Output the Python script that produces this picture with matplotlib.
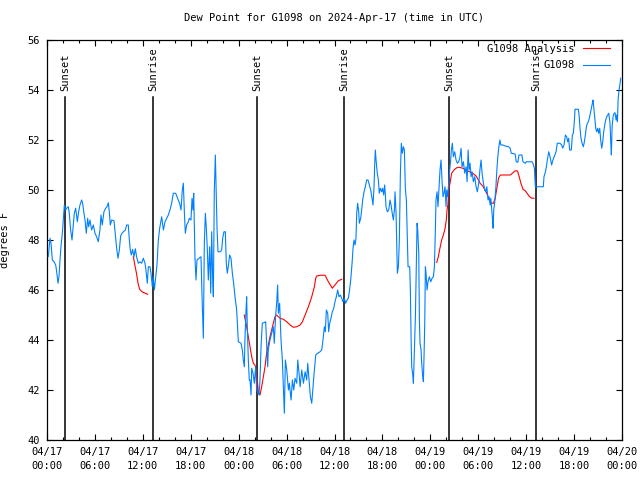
import numpy as np
import matplotlib.pyplot as plt
from matplotlib.ticker import MultipleLocator

# hours since 2024-04-17 00:00 UTC
obs_hours = [0.16, 0.38, 0.5, 0.67, 0.88, 1.09, 1.21, 1.38, 1.5, 1.63, 1.75, 1.92, 2.04, 2.17, 2.34, 2.46,
             2.67, 2.79, 2.96, 3.13, 3.3, 3.42, 3.59, 3.8, 3.96, 4.13, 4.34, 4.46, 4.63, 4.76, 4.92, 5.09,
             5.21, 5.38, 5.59, 5.8, 6.01, 6.21, 6.42, 6.63, 6.76, 6.92, 7.13, 7.34, 7.51, 7.68, 7.8, 7.93,
             8.1, 8.39, 8.56, 8.72, 8.89, 9.06, 9.22, 9.39, 9.56, 9.81, 9.97, 10.18, 10.31, 10.43, 10.56,
             10.72, 10.89, 11.06, 11.22, 11.43, 11.64, 11.85, 12.06, 12.27, 12.39, 12.56, 12.69, 12.9,
             13.02, 13.19, 13.31, 13.44,
             13.61, 13.77, 13.94, 14.11, 14.28, 14.36, 14.57, 14.78, 14.99, 15.19, 15.4, 15.61, 15.82,
             16.11, 16.36, 16.6, 16.78, 16.94, 17.07, 17.2, 17.32, 17.49, 17.7, 17.82, 18.03, 18.16,
             18.28, 18.37, 18.45, 18.53, 18.66, 18.78, 19.03, 19.28, 19.45, 19.58, 19.7, 19.83, 19.95,
             20.08, 20.2, 20.37, 20.5, 20.62, 20.75, 20.83, 20.95, 21.08, 21.16, 21.29, 21.41, 21.7,
             21.87, 22.0, 22.16, 22.33, 22.45, 22.58, 22.75, 22.87, 23.04, 23.21, 23.37, 23.54, 23.75,
             23.96, 24.29, 24.46, 24.58, 24.71, 24.79, 24.92, 25.0, 25.08, 25.21, 25.33,
             25.42, 25.55, 25.63, 25.8, 25.96, 26.13, 26.25, 26.38, 26.55, 26.67, 26.8, 26.96, 27.21,
             27.38, 27.5, 27.63, 27.71, 27.92, 28.13, 28.34, 28.46, 28.63, 28.76, 28.88, 28.97, 29.13,
             29.3, 29.47, 29.6, 29.72, 29.85, 30.02, 30.23, 30.35, 30.56, 30.73, 30.9, 31.06, 31.27,
             31.4, 31.56, 31.69, 31.9, 32.11, 32.32, 32.52, 32.65, 32.82, 32.98, 33.15, 33.31, 33.48,
             33.65, 33.9, 34.19, 34.4, 34.56, 34.73, 34.85, 34.98, 35.15, 35.27, 35.4, 35.56, 35.73,
             35.9, 36.06, 36.23, 36.4, 36.56, 36.73, 36.9, 37.06, 37.23, 37.4, 37.57,
             37.73, 37.86, 38.03, 38.2, 38.32, 38.44, 38.57, 38.69, 38.78, 38.9, 39.03, 39.11, 39.28,
             39.4, 39.53, 39.7, 39.86, 40.03, 40.2, 40.36, 40.53, 40.7, 40.82, 40.95, 41.03, 41.11,
             41.24, 41.36, 41.49, 41.61, 41.74, 41.91, 42.03, 42.16, 42.28, 42.37, 42.45, 42.62, 42.79,
             42.95, 43.08, 43.2, 43.37, 43.5, 43.58, 43.71, 43.79, 43.87, 44.0, 44.12, 44.25, 44.37,
             44.5, 44.63, 44.75, 44.87, 45.0, 45.13, 45.21, 45.42, 45.5, 45.59, 45.67, 45.8, 45.88,
             46.0, 46.13, 46.21, 46.34, 46.42, 46.55, 46.63, 46.71, 46.84, 46.92, 47.05, 47.13, 47.21,
             47.3, 47.38, 47.46, 47.59, 47.71, 47.88, 48.05, 48.22, 48.38, 48.51, 48.63, 48.71, 48.84,
             48.96, 49.09, 49.21, 49.34, 49.46, 49.59, 49.71, 49.84, 49.97, 50.05, 50.17, 50.3, 50.42,
             50.55, 50.63, 50.76, 50.88, 51.05, 51.22, 51.39, 51.55, 51.72, 51.85, 51.97, 52.14, 52.31,
             52.48, 52.6, 52.73, 52.85, 52.97, 53.1, 53.22, 53.39, 53.56, 53.73, 53.89, 54.06, 54.23,
             54.35, 54.48, 54.65, 54.81, 54.94, 55.07, 55.23, 55.36, 55.49, 55.57, 55.7, 55.78, 55.86,
             55.94, 56.07, 56.2, 56.33, 56.45, 56.58, 56.71, 56.83, 57.08, 57.37, 57.79, 58.0, 58.13,
             58.63, 58.75, 58.96, 59.09, 59.47, 59.6, 59.89, 60.01, 60.72, 60.85, 61.03, 61.15, 62.15,
             62.23, 62.36, 62.48, 62.65, 62.82, 62.94, 63.07, 63.19, 63.32, 63.44, 63.61, 63.74, 63.9,
             64.24, 64.45, 64.57, 64.74, 64.91, 65.07, 65.2, 65.32, 65.45, 65.66, 65.78, 65.91, 66.03,
             66.12, 66.54, 66.66, 66.74, 66.87, 67.0, 67.16, 67.29, 67.41, 67.54, 67.66, 67.79, 67.91,
             68.04, 68.17, 68.29, 68.37, 68.46, 68.58, 68.71, 68.83, 68.96, 69.08, 69.21, 69.33, 69.46,
             69.59, 69.71, 69.84, 69.96, 70.09, 70.21, 70.34, 70.5, 70.59, 70.67, 70.76, 70.88, 71.01,
             71.13, 71.26, 71.34, 71.43, 71.51, 71.63, 71.76, 71.84]
obs_dewpt = [47.33, 48.07, 47.87, 47.2, 47.13, 47.0, 46.73, 46.27, 46.53, 47.2, 47.73, 48.27, 48.8, 49.4, 49.2, 49.27,
             49.33, 49.07, 48.4, 48.0, 48.6, 49.07, 49.27, 48.73, 49.13, 49.4, 49.6, 49.47, 49.07, 48.8, 48.27, 48.87,
             48.53, 48.8, 48.4, 48.6, 48.27, 48.13, 47.93, 48.4, 49.0, 48.6, 49.13, 49.27, 49.33, 49.49, 49.13, 48.6,
             48.8, 48.77, 48.2, 47.67, 47.27, 47.6, 48.16, 48.27, 48.33, 48.4, 48.6, 48.6, 48.0, 47.6, 47.4,
             47.63, 47.33, 47.65, 47.33, 47.07, 47.13, 47.07, 47.27, 47.07, 46.8, 46.27, 46.93, 46.93,
             46.67, 46.13, 46.53, 46.0,
             46.53, 47.0, 48.0, 48.47, 48.8, 48.93, 48.4, 48.73, 48.87, 49.0, 49.2, 49.47, 49.87,
             49.87, 49.67, 49.47, 49.2, 50.0, 50.27, 49.13, 48.27, 48.6, 48.73, 48.87, 48.8, 49.67,
             49.2, 49.87, 48.67, 47.27, 46.4, 47.2, 47.27, 47.33, 45.33, 44.07, 47.87, 49.07, 48.47,
             47.6, 46.4, 47.73, 45.87, 48.33, 46.4, 45.73, 50.0, 51.4, 50.27, 48.47, 47.53, 47.53,
             47.6, 48.07, 48.33, 48.33, 47.07, 46.67, 47.07, 47.4, 47.27, 46.67, 46.27, 45.73, 45.2,
             43.93, 43.87, 43.6, 43.2, 42.93, 44.07, 45.2, 45.73, 44.53, 43.2, 42.4,
             42.4, 41.8, 42.87, 42.67, 42.27, 42.93, 42.0, 41.93, 41.8, 42.4, 43.73, 44.67, 44.7,
             44.73, 43.87, 42.93, 43.6, 44.0, 44.27, 44.53, 43.87, 45.0, 45.47, 46.2, 45.07, 45.47,
             44.0, 43.2, 42.13, 41.07, 43.2, 42.8, 42.0, 42.27, 41.6, 42.4, 42.0, 42.47, 42.27,
             43.2, 42.67, 42.13, 42.8, 42.27, 42.73, 42.4, 43.07, 42.4, 41.73, 41.47, 42.13, 42.8,
             43.4, 43.47, 43.53, 43.6, 44.0, 44.53, 44.33, 45.2, 45.07, 44.33, 44.67, 44.87, 45.13,
             45.27, 45.53, 45.73, 46.0, 45.73, 45.8, 45.67, 45.53, 45.67, 45.47, 45.6,
             45.67, 45.93, 46.4, 47.07, 47.67, 48.0, 47.8, 48.07, 49.07, 49.47, 49.13, 48.67, 48.87,
             49.2, 49.6, 49.93, 50.13, 50.4, 50.4, 50.2, 50.0, 49.67, 49.4, 50.13, 51.0, 51.6,
             51.07, 50.67, 50.4, 49.87, 50.07, 49.93, 50.07, 49.8, 50.2, 49.8, 49.33, 49.13, 49.2,
             49.6, 49.4, 49.13, 48.8, 49.2, 49.93, 49.07, 47.87, 46.67, 46.93, 48.0, 50.67, 51.87,
             51.47, 51.73, 51.6, 50.07, 49.6, 48.0, 46.93, 46.93, 46.0, 44.07, 42.93, 42.6, 42.27,
             43.6, 44.93, 46.27, 48.67, 48.4, 47.47, 44.8, 43.87, 43.6, 43.07, 42.53, 42.33, 43.33,
             44.67, 46.93, 46.67, 46.0, 46.33, 46.53, 46.33, 46.47, 46.53, 46.93, 48.4, 49.6, 49.93,
             49.33, 50.07, 50.8, 51.2, 50.4, 49.73, 49.87, 50.13, 49.33, 50.0, 49.73, 50.27, 50.8,
             51.2, 51.6, 51.87, 51.33, 51.53, 51.2, 51.07, 51.13, 51.33, 51.67, 50.93, 51.13, 50.67,
             50.93, 50.33, 51.6, 50.8, 51.07, 50.53, 50.73, 50.33, 50.53, 50.13, 49.93, 50.27, 50.87,
             51.2, 50.67, 50.27, 50.0, 49.93, 50.13, 49.6, 49.73, 49.4, 49.67, 49.2, 48.87, 48.47,
             49.2, 49.53, 50.07, 50.8, 51.33, 51.73, 52.0, 51.8, 51.8, 51.76, 51.73, 51.67, 51.47,
             51.44, 51.13, 51.11, 51.4, 51.4, 51.13, 51.07, 51.13, 51.13, 51.07, 50.87, 50.13, 50.13,
             50.53, 50.67, 50.83, 51.2, 51.53, 51.4, 51.2, 51.0, 51.17, 51.27, 51.4, 51.53, 51.87,
             51.87, 51.8, 51.67, 51.8, 52.2, 52.13, 51.93, 52.07, 51.6, 51.6, 52.2, 52.27, 52.73,
             53.23, 53.23, 52.87, 52.47, 52.07, 51.87, 51.73, 51.93, 52.2, 52.53, 52.67, 52.73, 52.87,
             53.07, 53.27, 53.47, 53.6, 53.33, 52.93, 52.47, 52.33, 52.47, 52.27, 52.47, 52.0, 51.67,
             51.93, 52.33, 52.6, 52.8, 52.93, 53.0, 53.07, 52.67, 51.93, 51.4, 52.53, 52.93, 53.07,
             53.09, 52.8, 53.0, 52.73, 53.6, 54.0, 54.27, 54.47]

# analysis runs (three pieces)
ana1_hours = [10.81, 11.0, 11.2, 11.4, 11.6, 11.9, 12.3, 12.6]
ana1_dewpt = [47.33, 47.0, 46.67, 46.27, 46.03, 45.93, 45.87, 45.83]
ana2_hours = [24.7, 25.0, 25.21, 25.42, 25.63, 25.84, 26.04, 26.17, 26.33, 26.46, 26.67, 26.88, 27.09,
              27.3, 27.5, 27.71, 27.92, 28.13, 28.34, 28.55, 28.76, 28.97, 29.17, 29.6, 30.02, 30.44,
              30.86, 31.27, 31.69, 31.98, 32.32, 32.73, 33.15, 33.48, 33.65, 33.77, 34.19, 34.82, 35.23,
              35.73, 36.06, 36.48, 36.9]
ana2_dewpt = [45.0, 44.53, 44.13, 43.73, 43.33, 43.07, 43.0, 42.8, 42.4, 41.93, 41.8, 42.13, 42.53,
              42.93, 43.47, 43.8, 44.13, 44.4, 44.67, 44.93, 45.0, 44.93, 44.87, 44.83, 44.73, 44.6,
              44.51, 44.53, 44.6, 44.73, 45.0, 45.33, 45.73, 46.13, 46.47, 46.56, 46.59, 46.59, 46.33,
              46.07, 46.2, 46.37, 46.43]
ana3_hours = [48.8, 49.0, 49.2, 49.42, 49.63, 49.84, 50.0, 50.09, 50.2, 50.3, 50.46, 50.67, 50.96,
              51.3, 51.63, 52.05, 52.47, 52.89, 53.31, 53.73, 54.02, 54.23, 54.56, 54.86, 55.15, 55.4,
              55.7, 55.9, 56.12, 56.33, 56.54, 56.75, 57.37, 58.0, 58.34, 58.63, 58.92, 59.13, 59.34,
              59.6, 59.89, 60.18, 60.43, 60.72, 60.97]
ana3_dewpt = [47.1, 47.33, 47.67, 48.0, 48.2, 48.45, 48.8, 49.2, 49.4, 50.0, 50.27, 50.67, 50.8,
              50.89, 50.91, 50.87, 50.8, 50.73, 50.67, 50.56, 50.4, 50.27, 50.16, 50.0, 49.8, 49.6,
              49.47, 49.47, 49.67, 50.07, 50.47, 50.6, 50.6, 50.6, 50.69, 50.77, 50.76, 50.53, 50.27,
              50.03, 49.97, 49.84, 49.73, 49.67, 49.67]

sun_hours = [2.25, 13.3, 26.3, 37.25, 50.35, 61.25]
sun_names = ['Sunset', 'Sunrise', 'Sunset', 'Sunrise', 'Sunset', 'Sunrise']

tick_hours = list(range(0, 73, 6))
tick_labels = ['04/17\n00:00', '04/17\n06:00', '04/17\n12:00', '04/17\n18:00',
               '04/18\n00:00', '04/18\n06:00', '04/18\n12:00', '04/18\n18:00',
               '04/19\n00:00', '04/19\n06:00', '04/19\n12:00', '04/19\n18:00',
               '04/20\n00:00']

plt.rcParams['font.family'] = ['DejaVu Sans Mono']
plt.rcParams['font.size'] = 7.5

fig = plt.figure(figsize=(6.4, 4.8), dpi=100)
ax = fig.add_axes([47 / 640, 40 / 480, 575 / 640, 400 / 480])

red = '#ff0000'
blue = '#0080ff'
ax.plot(ana1_hours, ana1_dewpt, color=red, lw=0.8, label='G1098 Analysis', zorder=3)
ax.plot(ana2_hours, ana2_dewpt, color=red, lw=0.8, zorder=3)
ax.plot(ana3_hours, ana3_dewpt, color=red, lw=0.8, zorder=3)
ax.plot(obs_hours, obs_dewpt, color=blue, lw=0.8, label='G1098', zorder=4)

for h, name in zip(sun_hours, sun_names):
    ax.plot([h, h], [40, 53.7], color='black', lw=1.1, zorder=2)
    ax.text(h, 53.95, name, rotation=90, ha='center', va='bottom', fontsize=7.5)

ax.set_xlim(0, 72)
ax.set_ylim(40, 56)
ax.set_xticks(tick_hours)
ax.set_xticklabels(tick_labels, linespacing=1.5)
ax.xaxis.set_minor_locator(MultipleLocator(2))
ax.set_yticks(np.arange(40, 57, 2))
ax.tick_params(which='both', direction='in', top=True, right=True)
ax.tick_params(which='major', length=4, width=0.8, pad=5)
ax.tick_params(which='minor', length=2, width=0.8)
for s in ax.spines.values():
    s.set_linewidth(0.9)

ax.set_ylabel('degrees F')
ax.yaxis.set_label_coords(-0.064, 0.5)
ax.set_title('Dew Point for G1098 on 2024-Apr-17 (time in UTC)', pad=14, fontsize=7.5)

ax.legend(loc='upper right', bbox_to_anchor=(0.979, 0.99), frameon=False, markerfirst=False,
          handlelength=2.6, handletextpad=0.8, labelspacing=0.6, borderaxespad=0, borderpad=0)

fig.savefig('out.png', dpi=100)
